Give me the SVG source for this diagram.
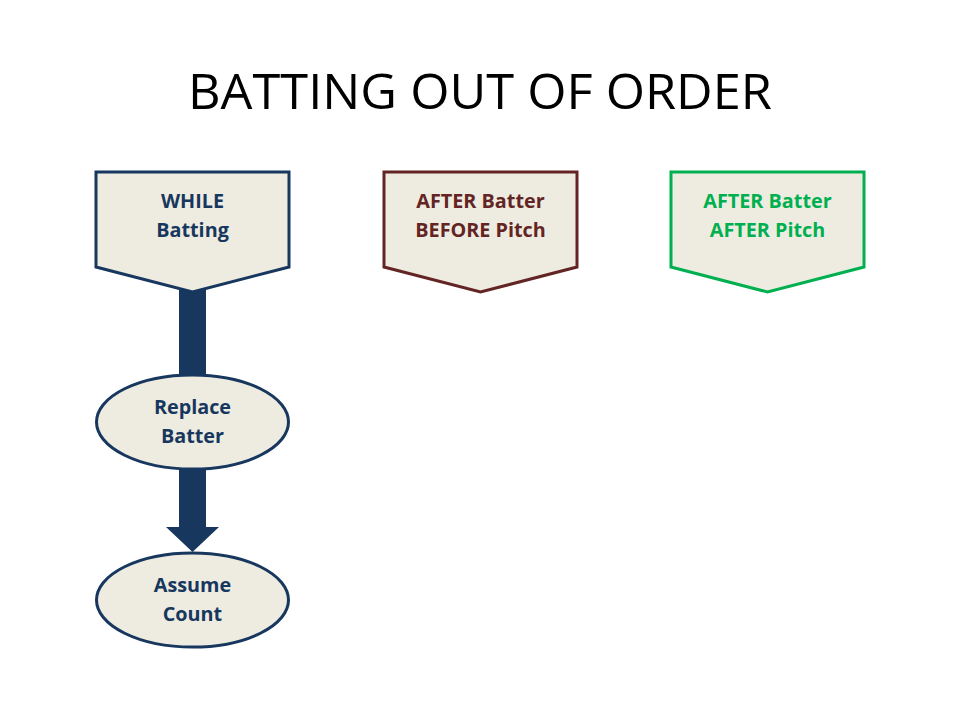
<svg xmlns="http://www.w3.org/2000/svg" width="960" height="720" viewBox="0 0 960 720">
<style>
.title{font-family:"Open Sans","Liberation Sans",sans-serif;font-size:49px;fill:#000}
.lbl{font-family:"Open Sans","Liberation Sans",sans-serif;font-size:19.8px;font-weight:bold;text-anchor:middle}
.shape{fill:#EEECE1;stroke-width:3}
.navy{stroke:#17375E}.navyt{fill:#17375E}
.red{stroke:#632523}.redt{fill:#632523}
.green{stroke:#00B050}.greent{fill:#00B050}
</style>
<rect width="960" height="720" fill="#fff"/>
<text class="title" x="480" y="109" text-anchor="middle" textLength="584" lengthAdjust="spacingAndGlyphs">BATTING OUT OF ORDER</text>
<g id="connectors">
<rect x="179" y="285" width="27" height="92" fill="#17375E"/>
<path d="M179,468 H206 V527 H219 L192.5,552 L166,527 H179 Z" fill="#17375E"/>
</g>
<g id="while-batting">
<path class="shape navy" d="M96,172 H289 V267 L192.5,292 L96,267 Z"/>
<text class="lbl navyt" x="192.5" y="208">WHILE</text>
<text class="lbl navyt" x="192.5" y="237">Batting</text>
</g>
<g id="after-batter-before-pitch">
<path class="shape red" d="M384,172 H577 V267 L480.5,292 L384,267 Z"/>
<text class="lbl redt" x="480.5" y="208">AFTER Batter</text>
<text class="lbl redt" x="480.5" y="237">BEFORE Pitch</text>
</g>
<g id="after-batter-after-pitch">
<path class="shape green" d="M671,172 H864 V267 L767.5,292 L671,267 Z"/>
<text class="lbl greent" x="767.5" y="208">AFTER Batter</text>
<text class="lbl greent" x="767.5" y="237">AFTER Pitch</text>
</g>
<g id="replace-batter">
<ellipse class="shape navy" cx="192.5" cy="422" rx="96" ry="47"/>
<text class="lbl navyt" x="192.5" y="414">Replace</text>
<text class="lbl navyt" x="192.5" y="443">Batter</text>
</g>
<g id="assume-count">
<ellipse class="shape navy" cx="192.5" cy="600" rx="96" ry="47"/>
<text class="lbl navyt" x="192.5" y="592">Assume</text>
<text class="lbl navyt" x="192.5" y="621">Count</text>
</g>
</svg>
